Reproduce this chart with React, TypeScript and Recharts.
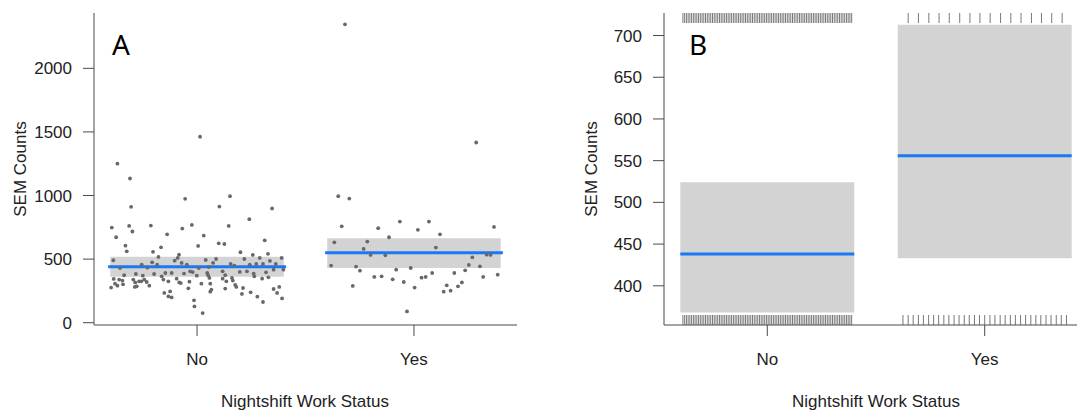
import {
  ComposedChart,
  ReferenceArea,
  ReferenceLine,
  Scatter,
  XAxis,
  YAxis,
} from "recharts";

// categories on the x axis (positions 1 and 2)
const categories = ["No", "Yes"];

// panel A: jittered observations, [offset from category centre, SEM count]
const noPoints: [number, number][] = [
  [-0.367, 1250], [-0.309, 1134], [-0.304, 911], [-0.055, 974], [-0.393, 748],
  [-0.313, 761], [-0.213, 764], [-0.298, 717], [-0.373, 672], [-0.068, 740],
  [-0.024, 769], [-0.138, 695], [-0.33, 606], [-0.324, 561], [-0.166, 593],
  [-0.203, 557], [-0.386, 491], [-0.083, 535], [-0.089, 509], [-0.178, 517],
  [-0.103, 488], [-0.207, 475], [-0.184, 457], [-0.255, 457], [-0.071, 470],
  [-0.047, 457], [-0.355, 430], [-0.229, 433], [-0.336, 373], [-0.282, 383],
  [-0.25, 370], [-0.198, 383], [-0.146, 391], [-0.117, 391], [-0.06, 386],
  [-0.032, 404], [-0.02, 398], [-0.384, 344], [-0.359, 339], [-0.344, 331],
  [-0.294, 339], [-0.267, 325], [-0.243, 339], [-0.232, 320], [-0.163, 365],
  [-0.155, 339], [-0.094, 346], [-0.082, 317], [-0.035, 323], [-0.378, 307],
  [-0.341, 302], [-0.285, 317], [-0.257, 325], [-0.278, 286], [-0.132, 325],
  [-0.396, 276], [-0.367, 291], [-0.287, 281], [-0.22, 291], [-0.075, 312],
  [-0.04, 270], [-0.151, 234], [-0.124, 246], [-0.132, 207], [-0.117, 199],
  [-0.014, 176], [-0.012, 128],
  [0.014, 1462], [0.152, 995], [0.103, 913], [0.346, 898], [0.241, 814],
  [0.146, 761], [0.031, 685], [0.005, 604], [0.1, 624], [0.126, 619],
  [0.312, 648], [0.2, 554], [0.257, 533], [0.327, 541], [0.04, 494],
  [0.088, 501], [0.074, 470], [0.218, 501], [0.289, 509], [0.39, 509],
  [0.336, 486], [0.155, 462], [0.172, 449], [0.243, 457], [0.273, 462],
  [0.304, 462], [0.363, 462], [0.008, 430], [0.054, 438], [0.118, 404],
  [0.197, 399], [0.23, 404], [0.261, 386], [0.318, 396], [0.353, 417],
  [0.398, 417], [-0.001, 370], [0.047, 391], [0.051, 373], [0.13, 373],
  [0.264, 365], [0.3, 346], [0.329, 357], [0.057, 352], [0.118, 346],
  [0.161, 352], [0.135, 325], [0.165, 331], [0.061, 307], [0.176, 297],
  [0.02, 307], [0.181, 281], [0.212, 273], [0.13, 268], [0.066, 260],
  [0.061, 244], [0.207, 226], [0.247, 239], [0.278, 205], [0.304, 163],
  [0.379, 281], [0.353, 265], [0.369, 234], [0.392, 191], [0.026, 76],
];

const yesPoints: [number, number][] = [
  [-0.318, 2346], [0.287, 1417], [-0.349, 995], [-0.298, 976], [-0.333, 758],
  [-0.065, 795], [0.069, 795], [-0.165, 743], [0.018, 730], [0.369, 753],
  [0.12, 695], [-0.115, 672], [-0.367, 632], [-0.215, 638], [-0.232, 580],
  [0.101, 591], [-0.2, 533], [-0.132, 530], [0.335, 535], [0.353, 533],
  [0.269, 514], [-0.382, 449], [-0.267, 441], [-0.249, 409], [-0.082, 417],
  [-0.015, 430], [0.253, 454], [0.304, 443], [0.236, 412], [0.084, 391],
  [0.186, 391], [0.386, 378], [-0.183, 360], [-0.149, 365], [-0.098, 341],
  [-0.047, 320], [0.035, 354], [0.054, 360], [0.319, 360], [-0.282, 289],
  [0.003, 276], [0.151, 294], [0.203, 286], [0.221, 317], [0.137, 244],
  [0.169, 252], [-0.032, 89],
];

// panel A: fitted value and band per category
const fitA = [439, 551];
const bandA: [number, number][] = [
  [361, 518],
  [430, 665],
];
const ticksA = [0, 500, 1000, 1500, 2000];

// panel B: fitted value and confidence interval per category
const fitB = [438, 556];
const ciB: [number, number][] = [
  [368, 524],
  [433, 713],
];
const ticksB = [400, 450, 500, 550, 600, 650, 700];

// panel B rug marks, offsets from the category centre
const rugNo = [
  -0.388, -0.38, -0.372, -0.364, -0.356, -0.348, -0.34, -0.332, -0.324, -0.316,
  -0.308, -0.3, -0.292, -0.284, -0.276, -0.268, -0.26, -0.252, -0.244, -0.236,
  -0.228, -0.22, -0.212, -0.204, -0.196, -0.188, -0.18, -0.172, -0.164, -0.156,
  -0.148, -0.14, -0.132, -0.124, -0.116, -0.108, -0.1, -0.092, -0.084, -0.076,
  -0.068, -0.06, -0.052, -0.044, -0.036, -0.028, -0.02, -0.012, -0.004, 0.004,
  0.012, 0.02, 0.028, 0.036, 0.044, 0.052, 0.06, 0.068, 0.076, 0.084,
  0.092, 0.1, 0.108, 0.116, 0.124, 0.132, 0.14, 0.148, 0.156, 0.164,
  0.172, 0.18, 0.188, 0.196, 0.204, 0.212, 0.22, 0.228, 0.236, 0.244,
  0.252, 0.26, 0.268, 0.276, 0.284, 0.292, 0.3, 0.308, 0.316, 0.324,
  0.332, 0.34, 0.348, 0.356, 0.364, 0.372, 0.38, 0.388,
];
const rugYesTop = [
  -0.352, -0.305, -0.257, -0.21, -0.163, -0.115, -0.068, -0.022, 0.025, 0.073,
  0.12, 0.167, 0.215, 0.261, 0.308, 0.356,
];
const rugYesBottom = [
  -0.376, -0.352, -0.329, -0.305, -0.282, -0.258, -0.235, -0.212, -0.188, -0.165,
  -0.141, -0.118, -0.094, -0.071, -0.047, -0.024, 0, 0.024, 0.047, 0.071,
  0.094, 0.118, 0.141, 0.165, 0.188, 0.212, 0.235, 0.258, 0.282, 0.305,
  0.329, 0.352, 0.376,
];

const X_DOMAIN: [number, number] = [0.525, 2.475];
const Y_DOMAIN_A: [number, number] = [-18, 2435];
const Y_DOMAIN_B: [number, number] = [353, 727];

const FONT = "'Liberation Sans', Arial, Helvetica, sans-serif";
const AXIS = "#4a4a4a";
const BAND = "#d3d3d3";
const BLUE = "#1a78f5";
const POINT = "#686868";

const tickStyle = { fontSize: 17, fill: "#222", fontFamily: FONT };

const dot = (p: any) => <circle cx={p.cx} cy={p.cy} r={1.9} fill={POINT} />;
const rugUp = (p: any) => (
  <line x1={p.cx} x2={p.cx} y1={p.cy} y2={p.cy + 10} stroke="#555" strokeWidth={0.8} />
);
const rugDown = (p: any) => (
  <line x1={p.cx} x2={p.cx} y1={p.cy - 10} y2={p.cy} stroke="#555" strokeWidth={0.8} />
);

function Frame({ yDomain, ticks }: { yDomain: [number, number]; ticks: number[] }) {
  return [
    <XAxis
      key="xb"
      type="number"
      dataKey="x"
      domain={X_DOMAIN}
      allowDataOverflow
      ticks={[1, 2]}
      tickFormatter={(v: number) => categories[v - 1] ?? ""}
      tick={tickStyle}
      tickSize={11}
      tickMargin={17}
      height={40}
      stroke={AXIS}
      interval={0}
    />,
    <XAxis
      key="xt"
      xAxisId="top"
      orientation="top"
      type="number"
      domain={X_DOMAIN}
      allowDataOverflow
      tick={false}
      tickLine={false}
      height={0}
      stroke={AXIS}
    />,
    <YAxis
      key="yl"
      type="number"
      dataKey="y"
      domain={yDomain}
      allowDataOverflow
      ticks={ticks}
      tick={tickStyle}
      tickSize={11}
      tickMargin={11}
      width={80}
      stroke={AXIS}
      interval={0}
    />,
    <YAxis
      key="yr"
      yAxisId="right"
      orientation="right"
      type="number"
      domain={yDomain}
      allowDataOverflow
      tick={false}
      tickLine={false}
      width={0}
      stroke={AXIS}
    />,
  ];
}

export default function App() {
  const scatterNo = noPoints.map(([dx, v]) => ({ x: 1 + dx, y: v }));
  const scatterYes = yesPoints.map(([dx, v]) => ({ x: 2 + dx, y: v }));
  const rugTop = [
    ...rugNo.map((o) => ({ x: 1 + o, y: Y_DOMAIN_B[1] })),
    ...rugYesTop.map((o) => ({ x: 2 + o, y: Y_DOMAIN_B[1] })),
  ];
  const rugBottom = [
    ...rugNo.map((o) => ({ x: 1 + o, y: Y_DOMAIN_B[0] })),
    ...rugYesBottom.map((o) => ({ x: 2 + o, y: Y_DOMAIN_B[0] })),
  ];

  return (
    <div
      style={{
        position: "fixed",
        left: 0,
        top: 0,
        width: 1077,
        height: 411,
        overflow: "hidden",
        background: "#fff",
        fontFamily: FONT,
      }}
    >
      {/* panel A */}
      <div style={{ position: "absolute", left: 0, top: 0 }}>
        <ComposedChart
          width={540}
          height={411}
          margin={{ top: 13, right: 23, bottom: 46, left: 14 }}
        >
          {Frame({ yDomain: Y_DOMAIN_A, ticks: ticksA })}
          {bandA.map(([lo, hi], i) => (
            <ReferenceArea
              key={"ba" + i}
              x1={i + 1 - 0.4}
              x2={i + 1 + 0.4}
              y1={lo}
              y2={hi}
              fill={BAND}
              fillOpacity={1}
              stroke="none"
            />
          ))}
          <Scatter data={scatterNo} shape={dot} isAnimationActive={false} />
          <Scatter data={scatterYes} shape={dot} isAnimationActive={false} />
          {fitA.map((v, i) => (
            <ReferenceLine
              key={"fa" + i}
              segment={[
                { x: i + 1 - 0.41, y: v },
                { x: i + 1 + 0.41, y: v },
              ]}
              stroke={BLUE}
              strokeWidth={3}
            />
          ))}
        </ComposedChart>
      </div>

      {/* panel B */}
      <div style={{ position: "absolute", left: 560, top: 0 }}>
        <ComposedChart
          width={540}
          height={411}
          margin={{ top: 13, right: 12, bottom: 46, left: 24 }}
        >
          {Frame({ yDomain: Y_DOMAIN_B, ticks: ticksB })}
          {ciB.map(([lo, hi], i) => (
            <ReferenceArea
              key={"cb" + i}
              x1={i + 1 - 0.4}
              x2={i + 1 + 0.4}
              y1={lo}
              y2={hi}
              fill={BAND}
              fillOpacity={1}
              stroke="none"
            />
          ))}
          {fitB.map((v, i) => (
            <ReferenceLine
              key={"fb" + i}
              segment={[
                { x: i + 1 - 0.4, y: v },
                { x: i + 1 + 0.4, y: v },
              ]}
              stroke={BLUE}
              strokeWidth={3}
            />
          ))}
          <Scatter data={rugTop} shape={rugUp} isAnimationActive={false} />
          <Scatter data={rugBottom} shape={rugDown} isAnimationActive={false} />
        </ComposedChart>
      </div>

      {/* titles and panel letters */}
      <svg
        width={1077}
        height={411}
        style={{ position: "absolute", left: 0, top: 0, pointerEvents: "none" }}
      >
        <text x={112} y={55} fontSize={28} fontFamily="'Noto Sans', 'Open Sans', sans-serif" fill="#000">
          A
        </text>
        <text x={689} y={55} fontSize={28} fontFamily="'Noto Sans', 'Open Sans', sans-serif" fill="#000">
          B
        </text>
        <text x={305} y={407} fontSize={17} fontFamily={FONT} fill="#222" textAnchor="middle">
          Nightshift Work Status
        </text>
        <text x={876} y={407} fontSize={17} fontFamily={FONT} fill="#222" textAnchor="middle">
          Nightshift Work Status
        </text>
        <text
          x={0}
          y={0}
          fontSize={17}
          fontFamily={FONT}
          fill="#222"
          textAnchor="middle"
          transform="translate(26 169) rotate(-90)"
        >
          SEM Counts
        </text>
        <text
          x={0}
          y={0}
          fontSize={17}
          fontFamily={FONT}
          fill="#222"
          textAnchor="middle"
          transform="translate(597 169) rotate(-90)"
        >
          SEM Counts
        </text>
      </svg>
    </div>
  );
}
